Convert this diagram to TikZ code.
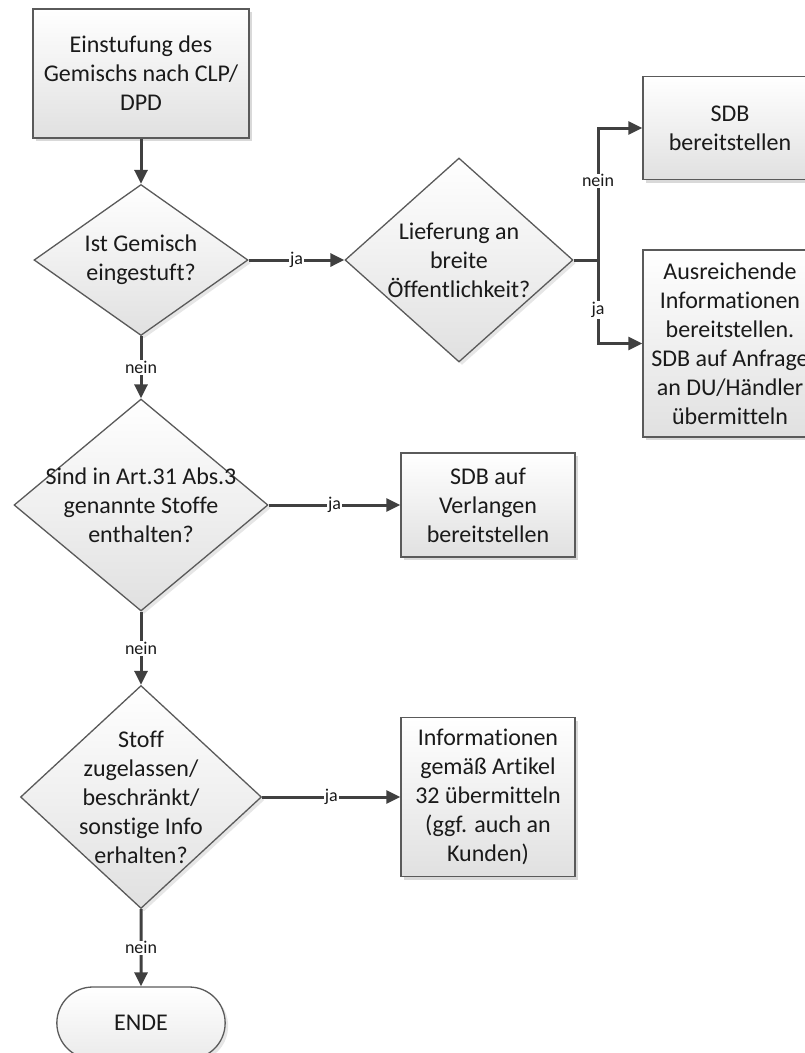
\documentclass[tikz,border=0pt]{standalone}
\usepackage{fontspec}
\setmainfont[RawFeature={-liga;-clig;-calt}]{Carlito}
\usetikzlibrary{shapes.geometric,shapes.misc,arrows.meta,shadows}

\definecolor{linegray}{HTML}{5A5A5A}
\definecolor{arrowgray}{HTML}{404040}
\definecolor{textdark}{HTML}{1A1A1A}

\tikzset{
	procbox/.style={draw=linegray, line width=1.4pt, rectangle,
		top color=white, bottom color=black!12,
		drop shadow={shadow xshift=3pt, shadow yshift=-3pt, opacity=0.3},
		align=center, text=textdark, inner sep=0pt,
		font=\fontsize{24}{29}\selectfont},
	decision/.style={draw=linegray, line width=1.3pt, diamond, inner sep=0pt,
		top color=white, bottom color=black!12,
		drop shadow={shadow xshift=3pt, shadow yshift=-3pt, opacity=0.2}},
	dtext/.style={align=center, text=textdark, inner sep=0pt,
		font=\fontsize{24}{29}\selectfont},
	terminal/.style={draw=linegray, line width=1.3pt, rounded rectangle,
		top color=white, bottom color=black!8,
		drop shadow={shadow xshift=3pt, shadow yshift=-3pt, opacity=0.2},
		text=textdark, font=\fontsize{24}{29}\selectfont},
	flow/.style={draw=arrowgray, line width=3pt, -{Triangle[length=14pt,width=13pt]}},
	conn/.style={draw=arrowgray, line width=3pt},
	lbl/.style={fill=white, inner sep=1pt, text=textdark,
		font=\fontsize{18}{20}\selectfont}
}

\begin{document}
\begin{tikzpicture}[x=1pt, y=-1pt]
		
		\useasboundingbox (0,0) rectangle (805,1053);
		
		% Start
		\node [procbox,
		minimum width=216pt,
		minimum height=129pt] (start) at (141,73.5){Einstufung des\\Gemischs nach CLP/\\DPD};
		
		% Decisions
		\node [decision,
		minimum width=214pt,
		minimum height=151pt] (d1) at (141,260){};
		\node [dtext] (d1txt) at (d1) {Ist Gemisch\\eingestuft?};
		
		\node [decision,
		minimum width=228pt,
		minimum height=204pt] (d2) at (459,260){};
		\node [dtext] (d2txt) at (d2) {Lieferung an\\breite\\Öffentlichkeit?};
		
		\node [decision,
		minimum width=254pt,
		minimum height=212pt] (d3) at (141,505){};
		\node [dtext] (d3txt) at (d3) {Sind in Art.31 Abs.3\\genannte Stoffe\\enthalten?};
		
		\node [decision,
		minimum width=241pt,
		minimum height=223pt] (d4) at (141,797){};
		\node [dtext] (d4txt) at (d4) {Stoff\\zugelassen/\\beschränkt/\\sonstige Info\\erhalten?};
		
		% Results
		\node [procbox,
		minimum width=174pt,
		minimum height=103pt] (sdb) at (730,128){SDB\\bereitstellen};
		
		\node [procbox,
		minimum width=174pt,
		minimum height=187pt] (info1) at (730,343.5){Ausreichende\\Informationen\\bereitstellen.\\SDB auf Anfrage\\an DU/Händler\\übermitteln};
		
		\node [procbox,
		minimum width=174pt,
		minimum height=104pt] (sdbv) at (488,505){SDB auf\\Verlangen\\bereitstellen};
		
		\node [procbox,
		minimum width=174pt,
		minimum height=159pt] (info2) at (488,797){Informationen\\gemäß Artikel\\32 übermitteln\\(ggf. auch an\\Kunden)};
		
		% End
		\node [terminal,
		minimum width=175pt,
		minimum height=72pt] (ende) at (141,1023){ENDE};
		
		% Connectors
		\draw [flow] (start) -- (d1);
		\draw [flow] (d1) -- node [lbl] (ja1) {ja} (d2);
		\coordinate (split) at (598,260);
		\draw [conn] (d2) -- (split);
		\draw [flow] (split) |- node [lbl, pos=0.3] (nein2) {nein} (sdb);
		\draw [flow] (split) |- node [lbl, pos=0.3] (ja2) {ja} (info1);
		\draw [flow] (d1) -- node [lbl] (nein1) {nein} (d3);
		\draw [flow] (d3) -- node [lbl] (ja3) {ja} (sdbv);
		\draw [flow] (d3) -- node [lbl] (nein3) {nein} (d4);
		\draw [flow] (d4) -- node [lbl] (ja4) {ja} (info2);
		\draw [flow] (d4) -- node [lbl] (nein4) {nein} (ende);
		
	\end{tikzpicture}
\end{document}
